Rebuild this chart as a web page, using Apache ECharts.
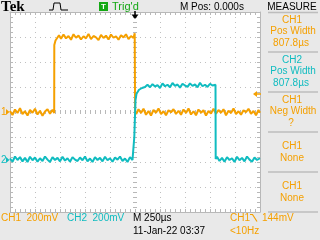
<!DOCTYPE html>
<html><head><meta charset="utf-8">
<script src="https://cdn.jsdelivr.net/npm/echarts@6/dist/echarts.min.js"></script>
<style>html,body{margin:0;padding:0;background:#e9e9e9}#c{width:320px;height:240px}</style>
</head><body><div id="c"></div>
<script>
// ---- scope settings ----
const voltsPerDiv = 200;   // mV / div (both channels)
const timePerDiv = 250;    // us / div
const ch1Pos = 0;          // div (ground marker of CH1)
const ch2Pos = -1.92;      // div (ground marker of CH2)
const trigLevel = 144;     // mV on CH1
const trigTime = 0;        // us (M Pos 0.000s)

// ---- CH1 samples [time us, mV] ----
const ch1Samples = [
 [-1250,8],[-1225,-24],[-1200,20],[-1175,-8],[-1150,30],[-1125,-16],[-1100,6],[-1075,-28],[-1050,16],[-1025,-6],
 [-1000,26],[-975,-20],[-950,10],[-925,-30],[-900,4],[-875,22],[-850,-14],[-825,18],[-808,-8],[-807,536],
 [-795,572],[-780,586],[-760,614],[-740,586],[-715,620],[-690,589],[-665,608],[-640,578],[-615,622],[-590,594],
 [-565,611],[-540,580],[-515,606],[-490,589],[-465,625],[-440,583],[-415,608],[-390,597],[-365,575],[-340,617],
 [-315,592],[-290,611],[-265,580],[-240,620],[-215,594],[-190,606],[-165,578],[-140,614],[-115,597],[-90,622],
 [-65,583],[-40,608],[-15,592],[-3,630],[0,614],[1,6],[12,-16],[35,22],[60,-8],[85,26],
 [110,-22],[135,8],[160,-28],[185,16],[210,-6],[235,28],[260,-16],[285,6],[310,-26],[335,14],
 [360,-2],[385,22],[410,-16],[435,10],[460,-22],[485,20],[510,-8],[535,28],[560,-20],[585,6],
 [610,-26],[635,20],[660,-6],[685,14],[710,-28],[735,8],[760,-12],[785,26],[810,-14],[835,16],
 [860,-6],[885,22],[910,-26],[935,10],[960,-8],[985,28],[1010,-16],[1035,6],[1060,-22],[1085,14],
 [1110,-2],[1135,26],[1160,-14],[1185,8],[1210,-26],[1235,16],[1250,-6]
];
// ---- CH2 samples [time us, mV] ----
const ch2Samples = [
 [-1250,12],[-1225,-14],[-1200,28],[-1175,0],[-1150,23],[-1125,-11],[-1100,17],[-1075,-16],[-1050,26],[-1025,-2],
 [-1000,20],[-975,-14],[-950,14],[-925,-8],[-900,28],[-875,3],[-850,-16],[-825,23],[-800,0],[-775,17],
 [-750,-11],[-725,26],[-700,-5],[-675,14],[-650,-14],[-625,23],[-600,3],[-575,-8],[-550,20],[-525,-2],
 [-500,28],[-475,-11],[-450,12],[-425,-16],[-400,23],[-375,0],[-350,17],[-325,-11],[-300,26],[-275,-2],
 [-250,14],[-225,-14],[-200,20],[-175,3],[-150,28],[-125,-8],[-100,12],[-75,-16],[-50,23],[-25,0],
 [-8,14],[-7,184],[2,200],[5,480],[15,530],[40,562],[70,576],[100,584],[125,602],[150,582],
 [175,607],[200,588],[225,599],[250,576],[275,613],[300,590],[325,602],[350,582],[375,616],[400,593],
 [425,604],[450,579],[475,610],[500,596],[525,585],[550,613],[575,593],[600,604],[625,582],[650,618],
 [675,590],[700,602],[725,585],[750,610],[775,596],[805,602],[807,8],[820,26],[845,-8],[870,17],
 [895,-14],[920,23],[945,0],[970,14],[995,-16],[1020,26],[1045,-2],[1070,17],[1095,-11],[1120,28],
 [1145,3],[1170,-14],[1195,20],[1220,0],[1250,14]
];

// ---- texts ----
const measureCh = ['CH1','CH2','CH1','CH1','CH1'];
const measureName = ['Pos Width','Pos Width','Neg Width','None','None'];
const measureValue = ['807.8µs','807.8µs','?','',''];
const bottomRow1 = ['CH1  200mV','CH2  200mV','M 250µs','CH1','144mV'];
const bottomRow2 = ['11-Jan-22 03:37','<10Hz'];
const headerTexts = ['Tek','T',"Trig'd",'M Pos: 0.000s','MEASURE'];

const ORANGE = '#f5a000', CYAN = '#10bcc0', GREEN = '#14a814';
const AX = '#b8b8b8', DOT = '#c0c0c0';
const FONT = '10px "Liberation Sans", Arial, sans-serif';

const halfSpan = timePerDiv * 5;
function borderX(pos) {
  return {type:'value', min:-halfSpan, max:halfSpan, interval:timePerDiv, position:pos,
    axisLine:{show:true,onZero:false,lineStyle:{color:AX,width:1}},
    axisTick:{show:true,inside:true,length:3,lineStyle:{color:AX}},
    minorTick:{show:true,splitNumber:5,length:3,lineStyle:{color:AX}},
    axisLabel:{show:false},
    splitLine:{show:pos==='bottom',lineStyle:{color:DOT,type:[1,4]}}};
}
function centerX(pos) {
  return {type:'value', min:-halfSpan, max:halfSpan, interval:timePerDiv, position:pos, offset:-100,
    axisLine:{show:false,onZero:false},
    axisTick:{show:true,inside:true,length:2,lineStyle:{color:AX}},
    minorTick:{show:true,splitNumber:5,length:2,lineStyle:{color:AX}},
    axisLabel:{show:false}, splitLine:{show:false}};
}
function borderY(pos) {
  return {type:'value', min:-4, max:4, interval:1, position:pos,
    axisLine:{show:true,onZero:false,lineStyle:{color:AX,width:1}},
    axisTick:{show:true,inside:true,length:3,lineStyle:{color:AX}},
    minorTick:{show:true,splitNumber:5,length:3,lineStyle:{color:AX}},
    axisLabel:{show:false},
    splitLine:{show:pos==='left',lineStyle:{color:DOT,type:[1,4]}}};
}
function centerY(pos) {
  return {type:'value', min:-4, max:4, interval:1, position:pos, offset:-125,
    axisLine:{show:false,onZero:false},
    axisTick:{show:true,inside:true,length:2,lineStyle:{color:AX}},
    minorTick:{show:true,splitNumber:5,length:2,lineStyle:{color:AX}},
    axisLabel:{show:false}, splitLine:{show:false}};
}

const toDiv = (arr, pos) => arr.map(([t, v]) => [t, v / voltsPerDiv + pos]);

const chart = echarts.init(document.getElementById('c'), null, {renderer:'canvas', width:320, height:240});
const option = {
  animation:false,
  backgroundColor:'#e9e9e9',
  grid:{left:10, top:12, width:250, height:200, show:true, backgroundColor:'#ffffff', borderWidth:0},
  xAxis:[borderX('bottom'), borderX('top'), centerX('bottom'), centerX('top')],
  yAxis:[borderY('left'), borderY('right'), centerY('left'), centerY('right')],
  series:[
    {type:'line', name:'CH1', data:toDiv(ch1Samples, ch1Pos), showSymbol:false, symbol:'none',
     lineStyle:{color:ORANGE,width:2}, silent:true, z:3},
    {type:'line', name:'CH2', data:toDiv(ch2Samples, ch2Pos), showSymbol:false, symbol:'none',
     lineStyle:{color:CYAN,width:2}, silent:true, z:4}
  ]
};
chart.setOption(option);

const P = (t, d) => chart.convertToPixel({xAxisIndex:0, yAxisIndex:0}, [t, d]);
const g1 = P(-halfSpan, ch1Pos)[1];
const g2 = P(-halfSpan, ch2Pos)[1];
const tl = P(halfSpan, trigLevel / voltsPerDiv + ch1Pos)[1];
const tx = P(trigTime, 4)[0];

function txt(text, x, y, fill, opts) {
  return {type:'text', x:x, y:y, z:100, silent:true,
    style:Object.assign({text:text, fill:fill, font:FONT, align:'left', verticalAlign:'middle'}, opts || {})};
}
const gr = [];
// header
gr.push(txt(headerTexts[0], 1, 7, '#000', {font:'bold 15px "Liberation Serif", serif'}));
gr.push({type:'polyline', z:100, shape:{points:[[49,10],[53,10],[54,3],[60,3],[61,10],[68,10]]}, style:{stroke:'#000', lineWidth:1, fill:null}});
gr.push({type:'rect', z:100, shape:{x:99,y:2,width:9,height:9}, style:{fill:GREEN}});
gr.push(txt(headerTexts[1], 103.5, 7, '#fff', {font:'bold 8px "Liberation Sans", sans-serif', align:'center'}));
gr.push(txt(headerTexts[2], 112, 7, GREEN, {font:'11px "Liberation Sans", sans-serif'}));
gr.push(txt(headerTexts[3], 180, 7, '#000'));
gr.push(txt(headerTexts[4], 292, 7, '#000', {align:'center'}));
// trigger position marker
gr.push({type:'polygon', z:100, shape:{points:[[tx-3.5,14.5],[tx+3.5,14.5],[tx,19]]}, style:{fill:'#000'}});
gr.push({type:'line', z:100, shape:{x1:tx,y1:11,x2:tx,y2:15}, style:{stroke:'#000', lineWidth:1.5}});
// trigger level marker
gr.push({type:'polygon', z:100, shape:{points:[[253,tl],[257,tl-3],[257,tl+3]]}, style:{fill:ORANGE}});
gr.push({type:'line', z:100, shape:{x1:256,y1:tl,x2:261,y2:tl}, style:{stroke:ORANGE, lineWidth:1.5}});
// ground markers
gr.push(txt('1', 1, g1, ORANGE));
gr.push({type:'polygon', z:100, shape:{points:[[6,g1-3],[6,g1+3],[9.5,g1]]}, style:{fill:ORANGE}});
gr.push(txt('2', 1, g2, CYAN));
gr.push({type:'polygon', z:100, shape:{points:[[6,g2-3],[6,g2+3],[9.5,g2]]}, style:{fill:CYAN}});
// measure panel separators
[12.5, 52, 92, 132, 172, 212].forEach(y => gr.push({type:'line', z:100, shape:{x1:268,y1:y,x2:318,y2:y}, style:{stroke:'#bdbdbd', lineWidth:1.5}}));
const boxTop = [13, 53, 93, 133, 173];
measureCh.forEach((c, i) => {
  const col = c === 'CH2' ? CYAN : ORANGE;
  const y0 = boxTop[i];
  if (measureValue[i] !== '') {
    gr.push(txt(c, 292, y0 + 7, col, {align:'center'}));
    gr.push(txt(measureName[i], 293, y0 + 18.5, col, {align:'center'}));
    gr.push(txt(measureValue[i], 291, y0 + 30, col, {align:'center'}));
  } else {
    gr.push(txt(c, 292, y0 + 13, col, {align:'center'}));
    gr.push(txt(measureName[i], 292, y0 + 25, col, {align:'center'}));
  }
});
// bottom rows
gr.push(txt(bottomRow1[0], 1, 218, ORANGE));
gr.push(txt(bottomRow1[1], 67, 218, CYAN));
gr.push(txt(bottomRow1[2], 133, 218, '#000'));
gr.push(txt(bottomRow1[3], 230, 218, ORANGE));
gr.push({type:'polyline', z:100, shape:{points:[[250,214.5],[252.5,214.5],[257,221.5]]}, style:{stroke:ORANGE, lineWidth:1.2, fill:null}});
gr.push(txt(bottomRow1[4], 262, 218, ORANGE));
gr.push(txt(bottomRow2[0], 133, 231, '#000'));
gr.push(txt(bottomRow2[1], 230, 231, ORANGE));

chart.setOption({graphic:gr});
</script>
</body></html>
